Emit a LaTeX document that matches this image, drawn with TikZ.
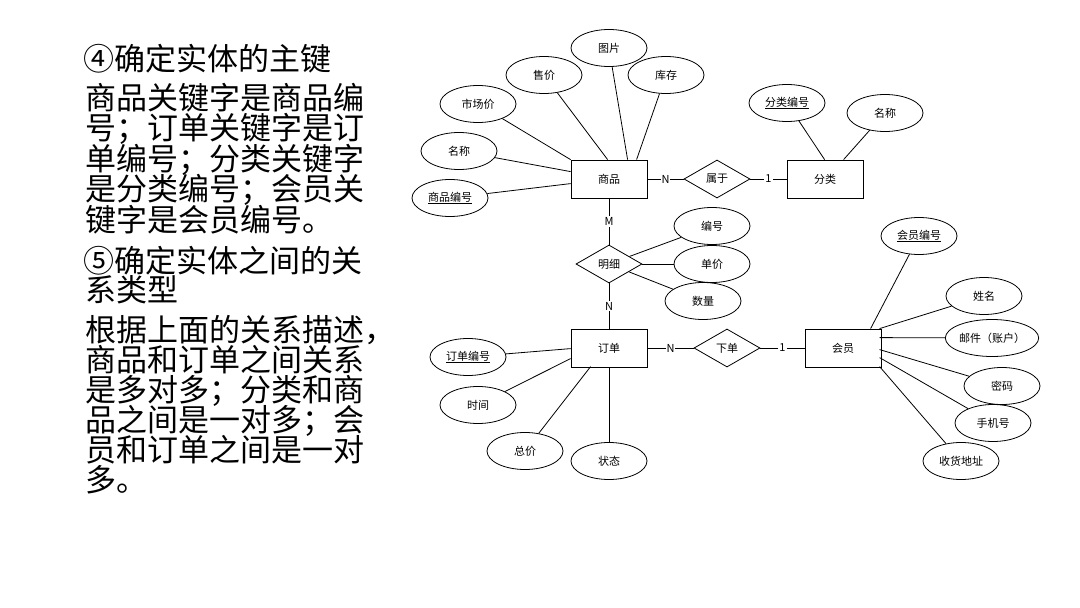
\documentclass[tikz,border=0pt]{standalone}
\usepackage{fontspec}
\setmainfont{Noto Sans CJK SC}
\usetikzlibrary{shapes.geometric,calc}
\begin{document}
\begin{tikzpicture}[x=1pt,y=-1pt,
  big/.style={anchor=base west, inner sep=0, font=\fontsize{31}{31}\selectfont},
  small/.style={font=\fontsize{11}{13}\selectfont},
  attr/.style={small, ellipse, draw, line width=0.8pt, minimum width=76, minimum height=37, inner sep=0},
  ent/.style={small, rectangle, draw, line width=0.8pt, minimum width=76, minimum height=38, inner sep=0},
  rel/.style={small, diamond, draw, line width=0.8pt, minimum width=66, minimum height=38, inner sep=0},
  card/.style={small, fill=white, inner sep=1pt},
  conn/.style={line width=0.8pt}]
\useasboundingbox[fill=white] (0,0) rectangle (1080,608);

% left text
\node[big] (t1) at (83,70.5) {④确定实体的主键};
\node[big] (p1) at (85,109) {商品关键字是商品编};
\node[big] (p2) at (85,139.5) {号；订单关键字是订};
\node[big] (p3) at (85,170) {单编号；分类关键字};
\node[big] (p4) at (85,200.5) {是分类编号；会员关};
\node[big] (p5) at (85,231) {键字是会员编号。};
\node[big] (t2) at (83,272.5) {⑤确定实体之间的关};
\node[big] (t2b) at (85,301.5) {系类型};
\node[big] (q1) at (85,341.5) {根据上面的关系描述，};
\node[big] (q2) at (85,371.5) {商品和订单之间关系};
\node[big] (q3) at (85,401.5) {是多对多；分类和商};
\node[big] (q4) at (85,431.5) {品之间是一对多；会};
\node[big] (q5) at (85,461.5) {员和订单之间是一对};
\node[big] (q6) at (85,491.5) {多。};

% entities
\node[ent] (sp) at (609,179) {商品};
\node[ent] (fl) at (825,179) {分类};
\node[ent] (dd) at (609,348) {订单};
\node[ent] (hy) at (843,348) {会员};

% relationships
\node[rel] (sy) at (717,179) {属于};
\node[rel] (mx) at (609,264) {明细};
\node[rel] (xd) at (727,348) {下单};

% 商品 attributes
\node[attr] (sp1) at (450,198) {\underline{商品编号}};
\node[attr] (sp2) at (459,151) {名称};
\node[attr] (sp3) at (478,104) {市场价};
\node[attr] (sp4) at (544,75) {售价};
\node[attr] (sp5) at (609,48) {图片};
\node[attr] (sp6) at (666,75) {库存};

% 分类 attributes
\node[attr] (fl1) at (787,103) {\underline{分类编号}};
\node[attr] (fl2) at (885,113) {名称};

% 明细 attributes
\node[attr] (mx1) at (712,226) {编号};
\node[attr] (mx2) at (712,264) {单价};
\node[attr] (mx3) at (703,301) {数量};

% 订单 attributes
\node[attr] (dd1) at (468,357) {\underline{订单编号}};
\node[attr] (dd2) at (478,405) {时间};
\node[attr] (dd3) at (525,451) {总价};
\node[attr] (dd4) at (609,461) {状态};

% 会员 attributes
\node[attr] (hy1) at (919,236) {\underline{会员编号}};
\node[attr] (hy2) at (984,296) {姓名};
\node[attr] (hy3) at (992,338) {邮件（账户）};
\node[attr] (hy4) at (1002,386) {密码};
\node[attr] (hy5) at (993,423) {手机号};
\node[attr] (hy6) at (961,461) {收货地址};

% attribute connectors
\draw[conn] (sp1) -- ($(sp.north west)+(0,24)$);
\draw[conn] (sp2) -- ($(sp.north west)+(0,12)$);
\draw[conn] (sp3) -- ($(sp.north west)+(0,0)$);
\draw[conn] (sp4) -- ($(sp.north west)+(37,0)$);
\draw[conn] (sp5) -- ($(sp.north west)+(57,0)$);
\draw[conn] (sp6) -- ($(sp.north west)+(66,0)$);

\draw[conn] (fl1) -- ($(fl.north west)+(38,0)$);
\draw[conn] (fl2) -- ($(fl.north west)+(57,0)$);

\draw[conn] (mx) -- (mx1);
\draw[conn] (mx.east) -- (mx2);
\draw[conn] (mx) -- (mx3);

\draw[conn] (dd1) -- ($(dd.north west)+(0,20)$);
\draw[conn] (dd2) -- ($(dd.north west)+(0,30)$);
\draw[conn] (dd3) -- ($(dd.north west)+(20,38)$);
\draw[conn] (dd4) -- (dd.south);

\draw[conn] (hy1) -- ($(hy.north west)+(66,0)$);
\draw[conn] (hy2) -- ($(hy.north west)+(75,0)$);
\draw[conn] (hy3) -- ($(hy.north west)+(75,9)$);
\draw[conn] (hy4) -- ($(hy.north west)+(75,21)$);
\draw[conn] (hy5) -- ($(hy.north west)+(75,29)$);
\draw[conn] (hy6) -- ($(hy.north west)+(75,38)$);

% relationship connectors with cardinalities
\draw[conn] (sp.east) -- node[card] {N} (sy.west);
\draw[conn] (sy.east) -- node[card] {1} (fl.west);
\draw[conn] (sp.south) -- node[card] {M} (mx.north);
\draw[conn] (mx.south) -- node[card] {N} (dd.north);
\draw[conn] (dd.east) -- node[card] {N} (xd.west);
\draw[conn] (xd.east) -- node[card] {1} (hy.west);
\end{tikzpicture}
\end{document}
